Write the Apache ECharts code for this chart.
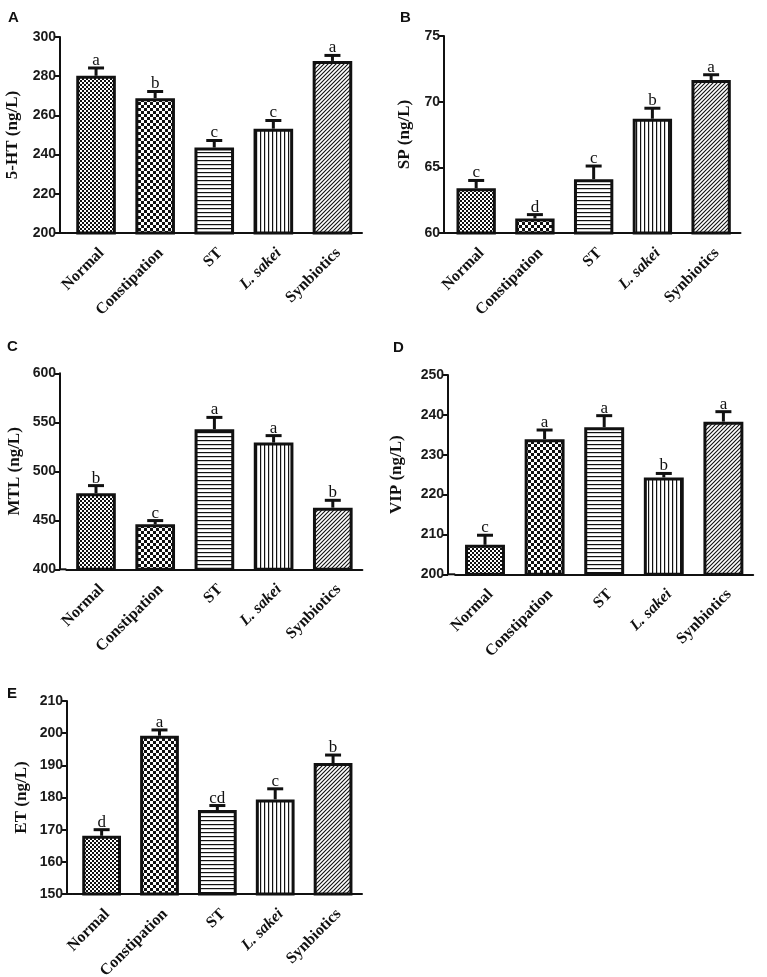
<!DOCTYPE html>
<html>
<head>
<meta charset="utf-8">
<title>Gut hormones by group</title>
<script src="https://cdn.jsdelivr.net/npm/echarts@6/dist/echarts.min.js"></script>
<style>
  html, body { margin: 0; padding: 0; background: #fff; }
  #main { width: 767px; height: 977px; }
</style>
</head>
<body>
<div id="main"></div>
<script>
// groups on every x axis
var groups = ['Normal', 'Constipation', 'ST', 'L. sakei', 'Synbiotics'];

// A: 5-HT (ng/L)
var htMean = [280.2, 268.8, 243.6, 253.2, 287.8];
var htSd = [4.0, 3.4, 3.6, 4.2, 2.8];
var htSig = ['a', 'b', 'c', 'c', 'a'];
// B: SP (ng/L)
var spMean = [63.4, 61.1, 64.1, 68.7, 71.65];
var spSd = [0.6, 0.3, 1.0, 0.8, 0.4];
var spSig = ['c', 'd', 'c', 'b', 'a'];
// C: MTL (ng/L)
var mtlMean = [477.6, 445.9, 542.9, 529.3, 462.9];
var mtlSd = [7.8, 3.8, 12.1, 7.1, 7.5];
var mtlSig = ['b', 'c', 'a', 'a', 'b'];
// D: VIP (ng/L)
var vipMean = [207.4, 233.9, 236.9, 224.3, 238.3];
var vipSd = [2.4, 2.3, 2.9, 1.0, 2.5];
var vipSig = ['c', 'a', 'a', 'b', 'a'];
// E: ET (ng/L)
var etMean = [168.1, 199.2, 176.1, 179.4, 190.7];
var etSd = [1.9, 1.8, 1.4, 3.3, 2.5];
var etSig = ['d', 'a', 'cd', 'c', 'b'];

// y axis ranges
var yMin = [200, 60, 400, 200, 150];
var yMax = [300, 75, 600, 250, 210];
var yStep = [20, 5, 50, 10, 10];
var yNames = ['5-HT (ng/L)', 'SP (ng/L)', 'MTL (ng/L)', 'VIP (ng/L)', 'ET (ng/L)'];
var letters = ['A', 'B', 'C', 'D', 'E'];

var means = [htMean, spMean, mtlMean, vipMean, etMean];
var sds = [htSd, spSd, mtlSd, vipSd, etSd];
var sigs = [htSig, spSig, mtlSig, vipSig, etSig];

// panel layout (px): y-axis x, plot left, plot right, top, bottom
var layout = [
  { ax: 60, l: 66.5, r: 362, t: 37, b: 233, gap: 39, lx: 8, ly: 10 },
  { ax: 444, l: 446.8, r: 740.5, t: 36, b: 233, gap: 31, lx: 400, ly: 10 },
  { ax: 60, l: 66.4, r: 362.4, t: 373.3, b: 569.3, gap: 37, lx: 7, ly: 339 },
  { ax: 448, l: 455.2, r: 753.2, t: 375, b: 574.3, gap: 43, lx: 393, ly: 340 },
  { ax: 67, l: 72.7, r: 362, t: 701, b: 894, gap: 37, lx: 7, ly: 686 }
];

var INK = '#111';

// hatch fills for the five groups
function tile(w, h, draw) {
  var c = document.createElement('canvas');
  c.width = w;
  c.height = h;
  var ctx = c.getContext('2d');
  ctx.fillStyle = '#fff';
  ctx.fillRect(0, 0, w, h);
  ctx.fillStyle = INK;
  ctx.strokeStyle = INK;
  draw(ctx);
  return { image: c, repeat: 'repeat' };
}
var fills = [
  tile(4, 4, function (ctx) { ctx.fillRect(0, 0, 2, 2); ctx.fillRect(2, 2, 2, 2); }),
  tile(6, 6, function (ctx) { ctx.fillRect(0, 0, 3, 3); ctx.fillRect(3, 3, 3, 3); }),
  tile(1, 4, function (ctx) { ctx.fillRect(0, 0, 1, 1.2); }),
  tile(4, 1, function (ctx) { ctx.fillRect(0, 0, 1.2, 1); }),
  tile(4, 4, function (ctx) {
    ctx.lineWidth = 1.1;
    ctx.beginPath();
    ctx.moveTo(-1, 5); ctx.lineTo(5, -1);
    ctx.moveTo(-1, 1); ctx.lineTo(1, -1);
    ctx.moveTo(3, 5); ctx.lineTo(5, 3);
    ctx.stroke();
  })
];

var catFont = { fontFamily: 'Liberation Serif', fontWeight: 'bold', fontSize: 16, color: INK };

var grids = [], xAxes = [], yAxes = [], series = [], graphics = [];

layout.forEach(function (p, k) {
  grids.push({
    left: p.l, top: p.t, width: p.r - p.l, height: p.b - p.t,
    containLabel: false,
    outerBoundsMode: 'none'
  });

  xAxes.push({
    type: 'category',
    gridIndex: k,
    data: groups,
    axisLine: { lineStyle: { color: INK, width: 2 } },
    axisTick: { alignWithLabel: true, length: 5, lineStyle: { color: INK, width: 2 } },
    axisLabel: {
      interval: 0,
      rotate: 45,
      margin: 12,
      verticalAlign: 'top',
      color: INK,
      fontFamily: 'Liberation Serif',
      fontWeight: 'bold',
      fontSize: 16,
      formatter: function (v) { return v === 'L. sakei' ? '{i|' + v + '}' : '{n|' + v + '}'; },
      rich: {
        n: catFont,
        i: { fontFamily: 'Liberation Serif', fontWeight: 'bold', fontStyle: 'italic', fontSize: 16, color: INK }
      }
    }
  });

  yAxes.push({
    type: 'value',
    gridIndex: k,
    min: yMin[k],
    max: yMax[k],
    interval: yStep[k],
    offset: p.l - p.ax,
    name: yNames[k],
    nameLocation: 'middle',
    nameRotate: 90,
    nameGap: p.gap,
    nameTextStyle: { fontFamily: 'Liberation Serif', fontWeight: 'bold', fontSize: 17, color: INK },
    splitLine: { show: false },
    axisLine: { show: true, lineStyle: { color: INK, width: 2 } },
    axisTick: { show: true, length: 5, lineStyle: { color: INK, width: 2 } },
    axisLabel: { margin: 4, color: '#1a1a1a', fontFamily: 'Liberation Sans', fontWeight: 'bold', fontSize: 14 }
  });

  series.push({
    type: 'bar',
    xAxisIndex: k,
    yAxisIndex: k,
    barWidth: '67%',
    itemStyle: { borderColor: INK, borderWidth: 3 },
    data: means[k].map(function (v, i) {
      return { value: v, itemStyle: { color: fills[i] } };
    })
  });

  // one-sided SD bars plus significance letters
  series.push({
    type: 'custom',
    xAxisIndex: k,
    yAxisIndex: k,
    z: 5,
    data: means[k].map(function (v, i) { return [i, v, v + sds[k][i]]; }),
    renderItem: function (params, api) {
      var base = api.coord([api.value(0), api.value(1)]);
      var top = api.coord([api.value(0), api.value(2)]);
      return {
        type: 'group',
        children: [
          { type: 'line', shape: { x1: base[0], y1: base[1], x2: top[0], y2: top[1] }, style: { stroke: INK, lineWidth: 3 } },
          { type: 'line', shape: { x1: top[0] - 8, y1: top[1], x2: top[0] + 8, y2: top[1] }, style: { stroke: INK, lineWidth: 3 } },
          {
            type: 'text', x: top[0], y: top[1] + 1,
            style: { text: sigs[k][params.dataIndex], fill: INK, font: '17px "Liberation Serif"', align: 'center', verticalAlign: 'bottom' }
          }
        ]
      };
    }
  });

  // x axis line continues left to the shifted y axis
  graphics.push({
    type: 'line',
    shape: { x1: p.ax, y1: p.b, x2: p.l, y2: p.b },
    style: { stroke: INK, lineWidth: 2 }
  });
  graphics.push({
    type: 'text', left: p.lx, top: p.ly,
    style: { text: letters[k], fill: INK, font: 'bold 15px "Liberation Sans"' }
  });
});

var chart = echarts.init(document.getElementById('main'), null, { renderer: 'canvas' });
chart.setOption({
  backgroundColor: '#fff',
  animation: false,
  grid: grids,
  xAxis: xAxes,
  yAxis: yAxes,
  series: series,
  graphic: graphics
});
</script>
</body>
</html>
